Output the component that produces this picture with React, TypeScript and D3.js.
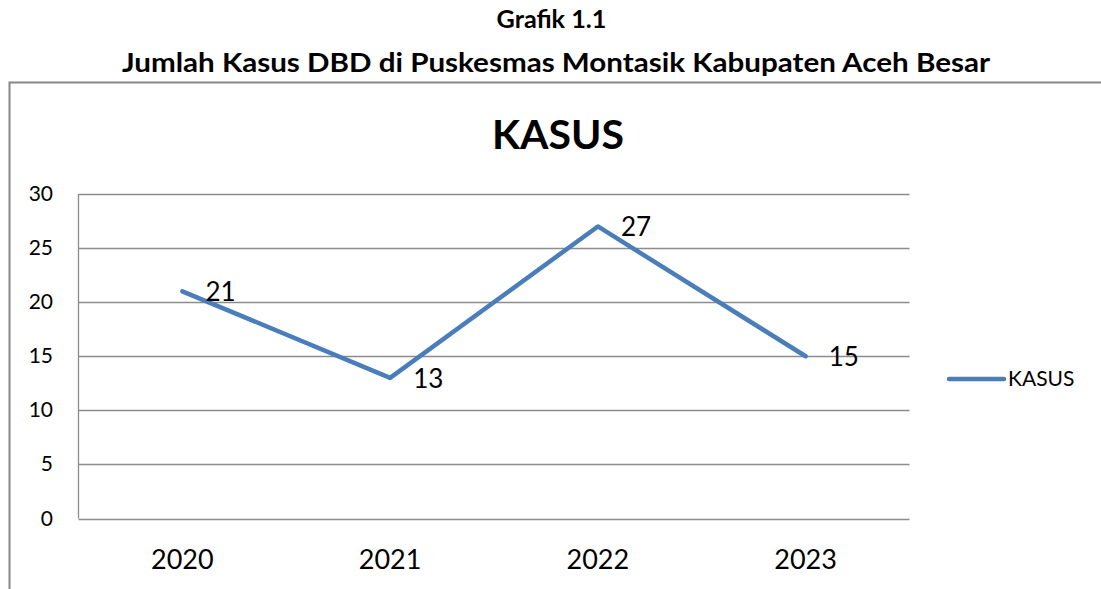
import React from "react";
import * as d3 from "d3";

const years = ["2020", "2021", "2022", "2023"];
const kasus = [21, 13, 27, 15];
const yTicks = [0, 5, 10, 15, 20, 25, 30];
const seriesName = "KASUS";
const chartTitle = "KASUS";
const headLine1 = "Grafik 1.1";
const headLine2 = "Jumlah Kasus DBD di Puskesmas Montasik Kabupaten Aceh Besar";

export default function App() {
  const W = 1101, H = 589;
  const left = 78.5, right = 909.5, top = 194, bottom = 518.5;
  const x = d3.scaleBand().domain(years).range([left, right]);
  const y = d3.scaleLinear().domain([0, 30]).range([bottom, top]);
  const line = d3.line<number>()
    .x((_, i) => (x(years[i]) as number) + x.bandwidth() / 2)
    .y((d) => y(d));
  const font = "Lato, 'Open Sans', sans-serif";
  const lineColor = "#4a7ebb";
  const grid = "#8c8c8c";
  return (
    <svg width={W} height={H} style={{ position: "absolute", left: 0, top: 0, background: "#fff" }} fontFamily={font}>
      <rect x={0} y={0} width={W} height={H} fill="#fff" />
      <text x={551.5} y={28} textAnchor="middle" fontWeight="bold" fontSize={25} fill="#000" textLength={110} lengthAdjust="spacingAndGlyphs">{headLine1}</text>
      <text x={556} y={72} textAnchor="middle" fontWeight="bold" fontSize={26} fill="#000" textLength={868} lengthAdjust="spacingAndGlyphs">{headLine2}</text>
      <path d={`M9.5,${H + 5} V82.5 H${W + 5}`} fill="none" stroke="#878787" strokeWidth={2} />
      <text x={558} y={149} textAnchor="middle" fontWeight="bold" fontSize={41} fill="#000">{chartTitle}</text>
      {yTicks.map((t) => (
        <g key={t}>
          <line x1={left} x2={right} y1={Math.round(y(t)) + 0.5} y2={Math.round(y(t)) + 0.5} stroke={grid} strokeWidth={1.3} />
          <text x={53} y={y(t) + 7} textAnchor="end" fontSize={21} fill="#000">{t}</text>
        </g>
      ))}
      <line x1={left} x2={left} y1={top} y2={bottom} stroke={grid} strokeWidth={1.3} />
      {years.map((yr) => (
        <text key={yr} x={(x(yr) as number) + x.bandwidth() / 2} y={569} textAnchor="middle" fontSize={27} fill="#000">{yr}</text>
      ))}
      <path d={line(kasus) || ""} fill="none" stroke={lineColor} strokeWidth={4.5} strokeLinejoin="round" strokeLinecap="round" />
      {kasus.map((v, i) => (
        <text key={i} x={(x(years[i]) as number) + x.bandwidth() / 2 + 23} y={y(v) + 10} fontSize={26} fill="#000">{v}</text>
      ))}
      <line x1={949} x2={1004} y1={379} y2={379} stroke={lineColor} strokeWidth={4.5} strokeLinecap="round" />
      <text x={1008} y={386} fontSize={21} fill="#000">{seriesName}</text>
    </svg>
  );
}
